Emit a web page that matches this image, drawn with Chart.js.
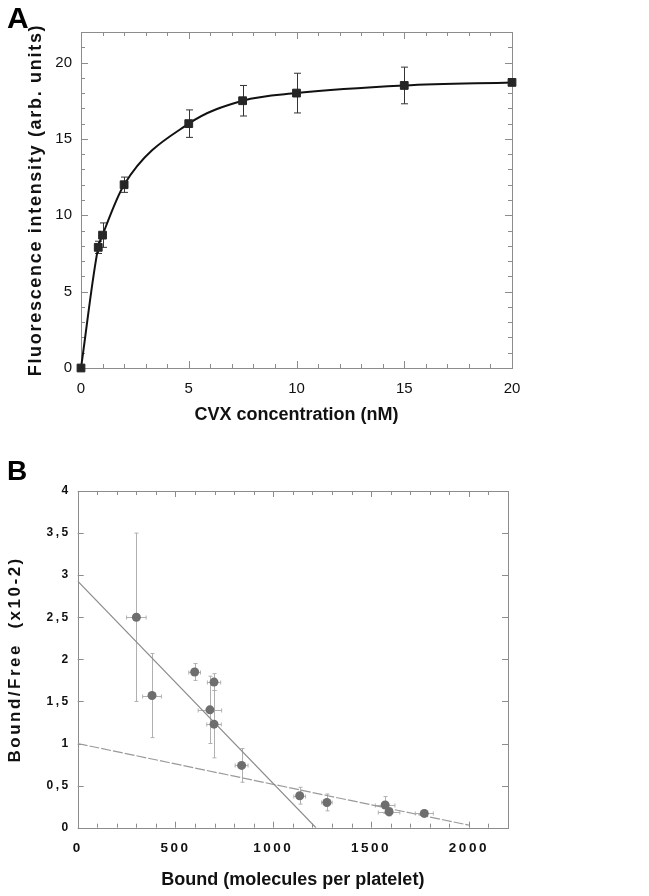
<!DOCTYPE html>
<html>
<head>
<meta charset="utf-8">
<script src="https://cdn.jsdelivr.net/npm/chart.js@4.4.1/dist/chart.umd.min.js"></script>
<style>
  html, body { margin: 0; padding: 0; background: #fff; }
  #wrapA { position: absolute; left: 0; top: 0; width: 649px; height: 440px; }
  #wrapB { position: absolute; left: 0; top: 440px; width: 649px; height: 456px; }
</style>
</head>
<body>
<div id="wrapA"><canvas id="chartA"></canvas></div>
<div id="wrapB"><canvas id="chartB"></canvas></div>
<script>
// panel A - fluorescence vs CVX concentration
var concA = [0, 0.8, 1, 2, 5, 7.5, 10, 15, 20];
var fluoA = [0, 7.9, 8.7, 12, 16, 17.5, 18, 18.5, 18.7];
var fluoErrA = [0, 0.4, 0.8, 0.5, 0.9, 1.0, 1.3, 1.2, 0];
var xTicksA = [0, 5, 10, 15, 20];
var yTicksA = [0, 5, 10, 15, 20];

// panel B - bound/free vs bound
var boundB = [300, 380, 598, 697, 676, 697, 838, 1135, 1274, 1572, 1592, 1772];
var ratioB = [2.50, 1.57, 1.85, 1.73, 1.40, 1.23, 0.74, 0.38, 0.30, 0.27, 0.19, 0.17];
var ratioErrB = [1.0, 0.5, 0.1, 0.1, 0.4, 0.4, 0.2, 0.1, 0.1, 0.1, 0.05, 0.04];
var boundErrB = [50, 48, 30, 34, 60, 37, 33, 30, 27, 50, 55, 46];
var steepFitX = [0, 1218];
var steepFitY = [2.93, 0];
var shallowFitX = [0, 2000];
var shallowFitY = [1.0, 0.03];
var xTicksB = [0, 500, 1000, 1500, 2000];
var yTicksB = [0, 0.5, 1, 1.5, 2, 2.5, 3, 3.5, 4];

var FONT = "'Liberation Sans', Arial, Helvetica, sans-serif";

function pts(xs, ys) {
  return xs.map(function(x, i) { return {x: x, y: ys[i]}; });
}

function isMajor(v, step) {
  var r = Math.abs(v / step - Math.round(v / step));
  return r < 1e-6;
}

// box frame, inward ticks on all sides, error bars
var frameTicks = {
  id: 'frameTicks',
  beforeDraw: function(chart) {
    chart.ctx.letterSpacing = '0px';
  },
  beforeDatasetsDraw: function(chart, args, o) {
    var ctx = chart.ctx, a = chart.chartArea;
    var xs = chart.scales.x, ys = chart.scales.y;
    ctx.save();
    ctx.strokeStyle = o.color;
    ctx.lineWidth = 1;
    ctx.strokeRect(Math.round(a.left) + 0.5, Math.round(a.top) + 0.5,
      Math.round(a.right - a.left), Math.round(a.bottom - a.top));
    ctx.beginPath();
    var v, p, len;
    for (v = xs.min; v <= xs.max + 1e-9; v += o.xMinor) {
      p = Math.round(xs.getPixelForValue(v)) + 0.5;
      len = isMajor(v, o.xMajor) ? o.majorLen : o.minorLen;
      ctx.moveTo(p, a.bottom); ctx.lineTo(p, a.bottom - len);
      ctx.moveTo(p, a.top); ctx.lineTo(p, a.top + len);
    }
    for (v = ys.min; v <= ys.max + 1e-9; v += o.yMinor) {
      p = Math.round(ys.getPixelForValue(v)) + 0.5;
      len = isMajor(v, o.yMajor) ? o.majorLen : o.minorLen;
      ctx.moveTo(a.left, p); ctx.lineTo(a.left + len, p);
      ctx.moveTo(a.right, p); ctx.lineTo(a.right - len, p);
    }
    ctx.stroke();

    // error bars
    var eb = o.errorBars;
    var meta = chart.getDatasetMeta(eb.dataset);
    var data = chart.data.datasets[eb.dataset].data;
    ctx.strokeStyle = eb.color;
    ctx.lineWidth = eb.width;
    ctx.beginPath();
    meta.data.forEach(function(el, i) {
      var x = Math.round(el.x) + 0.5, y = Math.round(el.y) + 0.5;
      var c = eb.cap;
      if (eb.yErr && eb.yErr[i]) {
        var y1 = ys.getPixelForValue(data[i].y + eb.yErr[i]);
        var y2 = ys.getPixelForValue(data[i].y - eb.yErr[i]);
        ctx.moveTo(x, y1); ctx.lineTo(x, y2);
        ctx.moveTo(x - c, y1); ctx.lineTo(x + c, y1);
        ctx.moveTo(x - c, y2); ctx.lineTo(x + c, y2);
      }
      if (eb.xErr && eb.xErr[i]) {
        var x1 = xs.getPixelForValue(data[i].x - eb.xErr[i]);
        var x2 = xs.getPixelForValue(data[i].x + eb.xErr[i]);
        ctx.moveTo(x1, y); ctx.lineTo(x2, y);
        ctx.moveTo(x1, y - c); ctx.lineTo(x1, y + c);
        ctx.moveTo(x2, y - c); ctx.lineTo(x2, y + c);
      }
    });
    ctx.stroke();
    ctx.restore();
    // spacing for what is drawn after the datasets (layers with z > 0)
    ctx.letterSpacing = o.lateSpacing;
  }
};

new Chart(document.getElementById('chartA'), {
  type: 'scatter',
  data: {
    datasets: [{
      data: pts(concA, fluoA),
      showLine: true,
      clip: false,
      cubicInterpolationMode: 'monotone',
      borderColor: '#111',
      borderWidth: 2,
      pointStyle: 'rect',
      pointRadius: 5.5,
      pointBackgroundColor: '#262626',
      pointBorderColor: '#262626',
      pointBorderWidth: 1
    }]
  },
  options: {
    responsive: true,
    maintainAspectRatio: false,
    animation: false,
    layout: { padding: { left: 7, right: 137, top: 0, bottom: 0 } },
    plugins: {
      legend: { display: false },
      tooltip: { enabled: false },
      title: {
        display: true, text: 'A', align: 'start', color: '#000',
        font: { family: FONT, size: 30, weight: 'bold', lineHeight: 0.8 },
        padding: { top: 8, bottom: 0 }
      },
      frameTicks: {
        color: '#8c8c8c', xMinor: 1, xMajor: 5, yMinor: 1, yMajor: 5,
        majorLen: 7, minorLen: 4, lateSpacing: '1.7px',
        errorBars: { dataset: 0, yErr: fluoErrA, color: '#333', width: 1, cap: 3.5 }
      }
    },
    scales: {
      x: {
        type: 'linear', min: 0, max: 20,
        afterBuildTicks: function(s) { s.ticks = xTicksA.map(function(v) { return {value: v}; }); },
        afterFit: function(s) { s.height = 72; },
        grid: { display: false, drawTicks: false },
        border: { display: false },
        ticks: { padding: 12, color: '#111', autoSkip: false, maxRotation: 0,
          font: { family: FONT, size: 15 }, callback: function(v) { return v; } },
        title: { display: true, text: 'CVX concentration (nM)', color: '#111',
          font: { family: FONT, size: 18, weight: 'bold' }, padding: { top: 0, bottom: 14 } }
      },
      y: {
        type: 'linear', min: 0, max: 22,
        afterBuildTicks: function(s) { s.ticks = yTicksA.map(function(v) { return {value: v}; }); },
        afterFit: function(s) { s.width = 74; },
        grid: { display: false, drawTicks: false, z: 1 },
        border: { display: false },
        ticks: { padding: 9, color: '#111', autoSkip: false,
          font: { family: FONT, size: 15 }, callback: function(v) { return v; } },
        title: { display: true, text: 'Fluorescence intensity (arb. units)', color: '#111',
          font: { family: FONT, size: 18, weight: 'bold' }, padding: { top: 18, bottom: 0 } }
      }
    }
  },
  plugins: [frameTicks]
});

new Chart(document.getElementById('chartB'), {
  type: 'scatter',
  data: {
    datasets: [{
      data: pts(boundB, ratioB),
      clip: false,
      pointRadius: 4.5,
      pointBackgroundColor: '#6e6e6e',
      pointBorderWidth: 0
    }, {
      data: pts(steepFitX, steepFitY),
      showLine: true,
      pointRadius: 0,
      borderColor: '#8a8a8a',
      borderWidth: 1.2
    }, {
      data: pts(shallowFitX, shallowFitY),
      showLine: true,
      pointRadius: 0,
      borderColor: '#9a9a9a',
      borderWidth: 1.2,
      borderDash: [10, 2]
    }]
  },
  options: {
    responsive: true,
    maintainAspectRatio: false,
    animation: false,
    layout: { padding: { left: 7, right: 141, top: 0, bottom: 0 } },
    plugins: {
      legend: { display: false },
      tooltip: { enabled: false },
      title: {
        display: true, text: 'B', align: 'start', color: '#000',
        font: { family: FONT, size: 28, weight: 'bold', lineHeight: 0.8 },
        padding: { top: 20.8, bottom: 7.8 }
      },
      frameTicks: {
        color: '#8c8c8c', xMinor: 100, xMajor: 500, yMinor: 0.5, yMajor: 0.5,
        majorLen: 6, minorLen: 4, lateSpacing: '2.5px',
        errorBars: { dataset: 0, yErr: ratioErrB, xErr: boundErrB, color: '#b0b0b0', width: 1, cap: 2 }
      }
    },
    scales: {
      x: {
        type: 'linear', min: 0, max: 2200,
        afterBuildTicks: function(s) { s.ticks = xTicksB.map(function(v) { return {value: v}; }); },
        afterFit: function(s) { s.height = 68.3; },
        grid: { display: false, drawTicks: false },
        border: { display: false },
        ticks: { z: 1, padding: 12, color: '#111', autoSkip: false, maxRotation: 0,
          font: { family: FONT, size: 13.5, weight: 'bold' }, callback: function(v) { return v; } },
        title: { display: true, text: 'Bound (molecules per platelet)', color: '#111',
          font: { family: FONT, size: 18, weight: 'bold', lineHeight: 1 }, padding: { top: 0, bottom: 7 } }
      },
      y: {
        type: 'linear', min: 0, max: 4,
        afterBuildTicks: function(s) { s.ticks = yTicksB.map(function(v) { return {value: v}; }); },
        afterFit: function(s) { s.width = 70.7; },
        grid: { display: false, drawTicks: false, z: 1 },
        border: { display: false },
        ticks: { z: 1, padding: 7, color: '#111', autoSkip: false,
          font: { family: FONT, size: 12, weight: 'bold' },
          callback: function(v) { return String(v).replace('.', ','); } },
        title: { display: true, text: 'Bound/Free  (x10-2)', color: '#111',
          font: { family: FONT, size: 17, weight: 'bold', lineHeight: 1 }, padding: { top: 0, bottom: 0 } }
      }
    }
  },
  plugins: [frameTicks]
});
</script>
</body>
</html>
